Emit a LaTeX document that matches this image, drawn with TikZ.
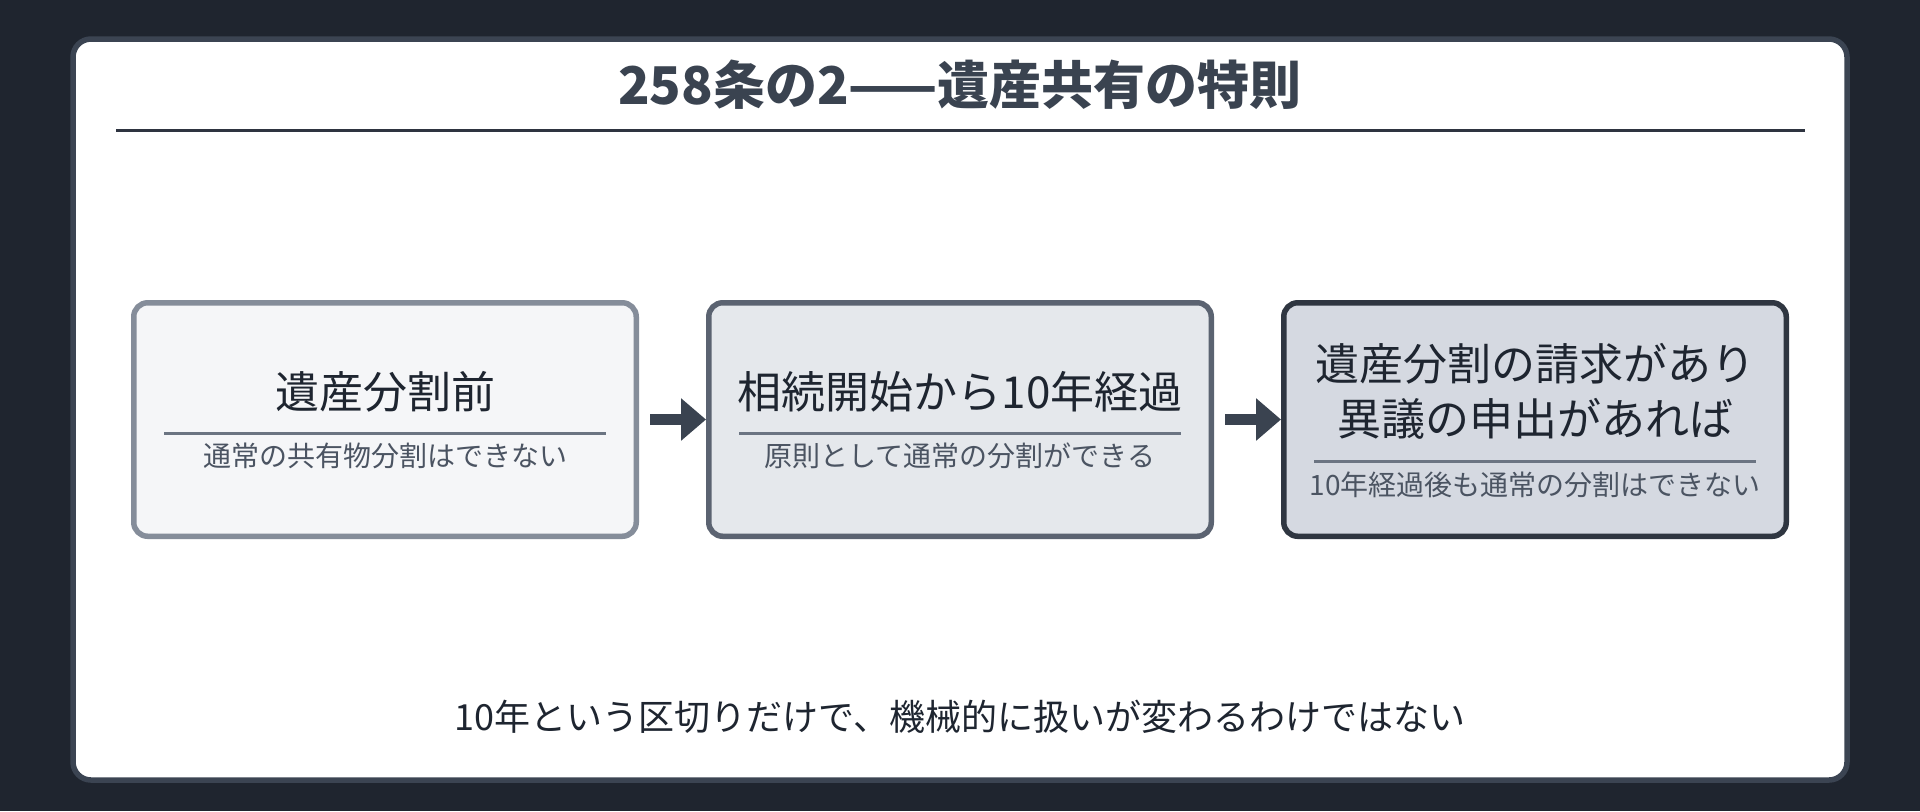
\documentclass[tikz,border=0pt]{standalone}
\usepackage{fontspec}
\setmainfont{Noto Sans CJK JP}
\usepackage{tikz}
\usetikzlibrary{positioning, arrows.meta}
\usetikzlibrary{calc}
\definecolor{bgdark}{HTML}{1F252F}
\definecolor{cardline}{HTML}{3B4452}
\definecolor{titlegray}{HTML}{3A4350}
\definecolor{titlerule}{HTML}{2E3440}
\definecolor{inktext}{HTML}{1E2530}
\definecolor{subtext}{HTML}{4B5462}
\definecolor{rulegray}{HTML}{6B7482}
\definecolor{fillA}{HTML}{F5F6F8}
\definecolor{lineA}{HTML}{858D9A}
\definecolor{fillB}{HTML}{E5E8EC}
\definecolor{lineB}{HTML}{5B6371}
\definecolor{fillC}{HTML}{D5D9E1}
\definecolor{lineC}{HTML}{2F3641}
\tikzstyle{card} = [rounded corners=9pt, line width=2.75pt, draw=cardline, fill=white]
\tikzstyle{stage} = [rectangle, rounded corners=7pt, minimum width=251.25pt, minimum height=116.75pt, line width=2.75pt, draw]
\tikzstyle{stageA} = [stage, fill=fillA, draw=lineA]
\tikzstyle{stageB} = [stage, fill=fillB, draw=lineB]
\tikzstyle{stageC} = [stage, fill=fillC, draw=lineC]
\tikzstyle{heading} = [inner sep=0pt, font=\fontsize{26pt}{31pt}\selectfont\bfseries, text=titlegray]
\tikzstyle{headline} = [inner sep=0pt, align=center, font=\fontsize{22pt}{27.5pt}\selectfont, text=inktext]
\tikzstyle{note} = [inner sep=0pt, font=\fontsize{14pt}{17pt}\selectfont, text=subtext]
\tikzstyle{summary} = [inner sep=0pt, font=\fontsize{18pt}{22pt}\selectfont, text=inktext]
\tikzstyle{divider} = [line width=1.5pt, draw=rulegray]
\tikzstyle{arrow} = [line width=5.5pt, draw=titlegray, -{Triangle[length=12.5pt,width=20.5pt]}]
\begin{document}
\begin{tikzpicture}[x=0.5pt, y=-0.5pt]
			%背景とカード
			\useasboundingbox (0,0) rectangle (1920,811);
			\fill [bgdark] (0,0) rectangle (1920,811);
			\draw [card] (73,39) rectangle (1847,780);
			\node (title) [heading] at (960,85) {258条の2——遺産共有の特則};
			\draw [line width=1.5pt, draw=titlerule] (116,130) -- (1805,130);
			
			%三つの段階
			\node (b1) [stageA] at (385,419.5) {};
			\node (b2) [stageB, right=33.5pt of b1] {};
			\node (b3) [stageC, right=33.5pt of b2] {};
			
			\node (t1) [headline] at ([yshift=13.75pt]b1.center) {遺産分割前};
			\draw [divider] ([xshift=16.5pt,yshift=-6.75pt]b1.west) -- ([xshift=-16.5pt,yshift=-6.75pt]b1.east);
			\node (s1) [note] at ([yshift=-18.25pt]b1.center) {通常の共有物分割はできない};
			
			\node (t2) [headline] at ([yshift=13.75pt]b2.center) {相続開始から10年経過};
			\draw [divider] ([xshift=16.5pt,yshift=-6.75pt]b2.west) -- ([xshift=-16.5pt,yshift=-6.75pt]b2.east);
			\node (s2) [note] at ([yshift=-18.25pt]b2.center) {原則として通常の分割ができる};
			
			\node (t3) [headline] at ([yshift=14pt]b3.center) {遺産分割の請求があり\\異議の申出があれば};
			\draw [divider] ([xshift=16.5pt,yshift=-20.75pt]b3.west) -- ([xshift=-16.5pt,yshift=-20.75pt]b3.east);
			\node (s3) [note] at ([yshift=-32.75pt]b3.center) {10年経過後も通常の分割はできない};
			
			%矢印
			\draw [arrow] ([xshift=5.5pt]b1.east) -- (b2.west);
			\draw [arrow] ([xshift=5.5pt]b2.east) -- (b3.west);
			
			\node (sum) [summary] at (960,717) {10年という区切りだけで、機械的に扱いが変わるわけではない};
		\end{tikzpicture}
\end{document}
